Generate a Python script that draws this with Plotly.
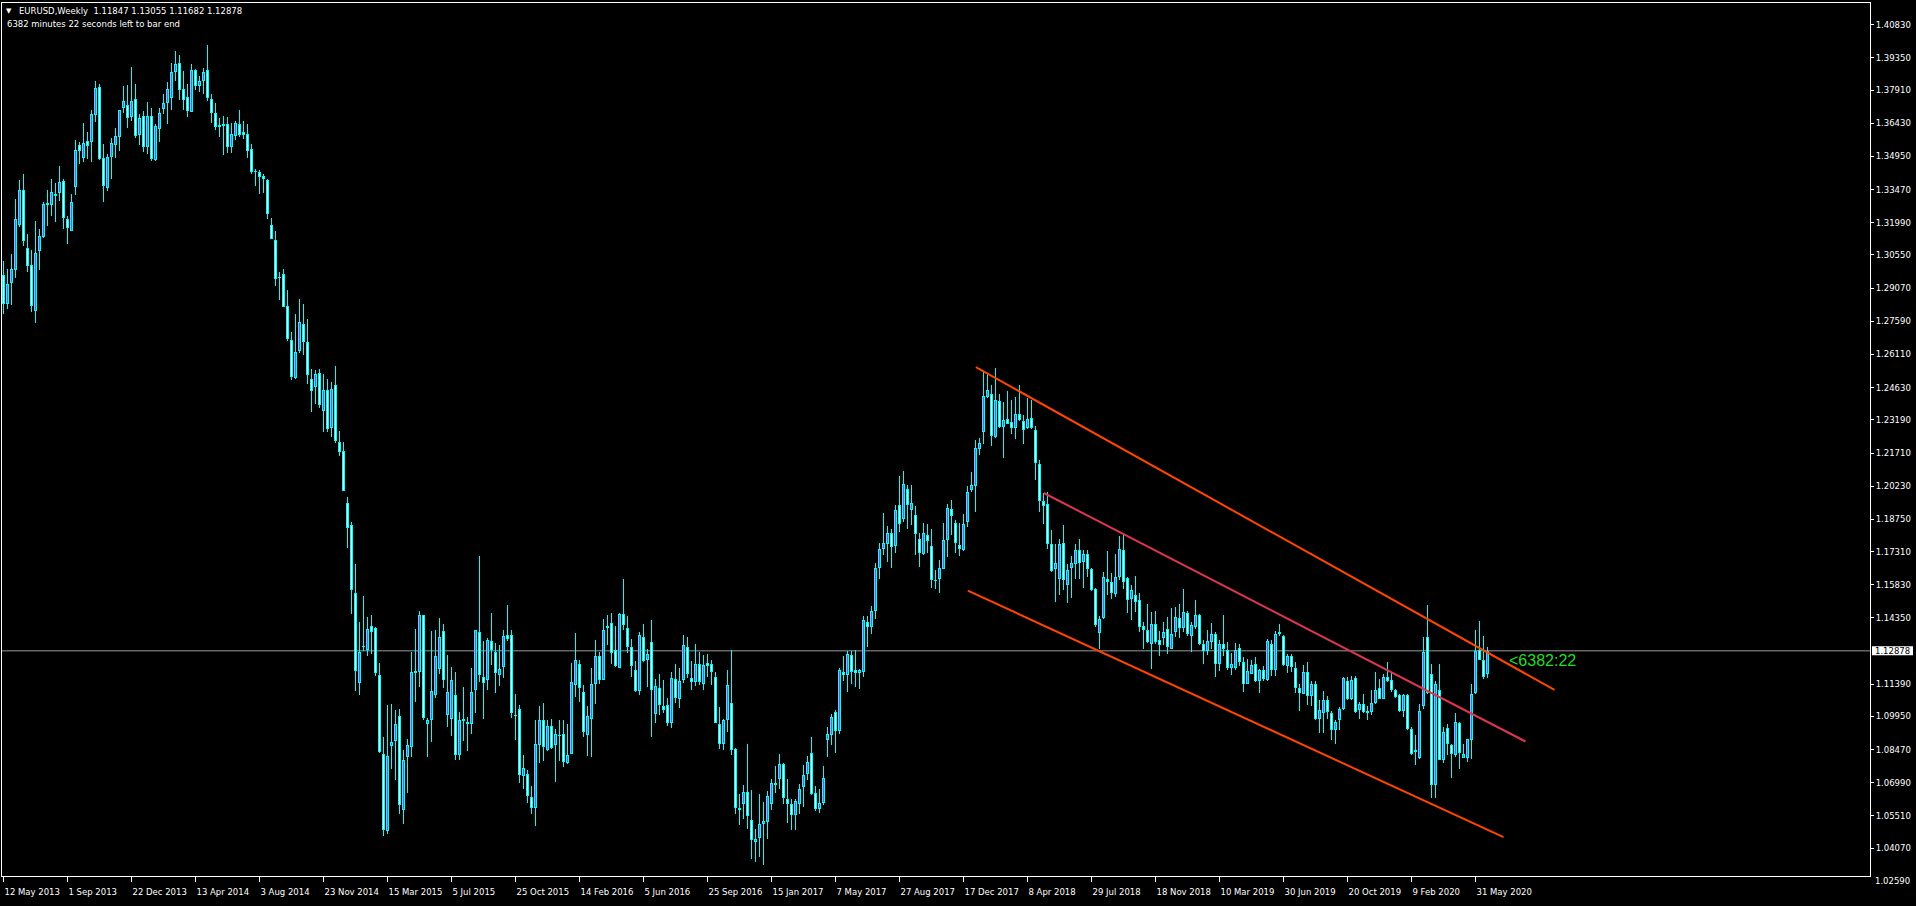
import numpy as np
import pandas as pd
import plotly.graph_objects as go

# ---------------- data (EURUSD weekly) ----------------
START = "2013-05-12"

opens = [
    1.2964, 1.2838, 1.2932, 1.2990, 1.3191, 1.3347, 1.3088, 1.3012, 1.2805, 1.3073,
    1.3135, 1.3278, 1.3278, 1.3327, 1.3333, 1.3387, 1.3217, 1.3164, 1.3360, 1.3548,
    1.3488, 1.3565, 1.3559, 1.3680, 1.3807, 1.3487, 1.3354, 1.3493, 1.3546, 1.3582,
    1.3711, 1.3726, 1.3671, 1.3753, 1.3591, 1.3677, 1.3537, 1.3677, 1.3479, 1.3618,
    1.3705, 1.3734, 1.3756, 1.3872, 1.3914, 1.3798, 1.3762, 1.3693, 1.3882, 1.3810,
    1.3832, 1.3882, 1.3753, 1.3690, 1.3634, 1.3631, 1.3641, 1.3537, 1.3586, 1.3641,
    1.3606, 1.3597, 1.3527, 1.3424, 1.3427, 1.3409, 1.3391, 1.3191, 1.3124, 1.2951,
    1.2972, 1.2829, 1.2677, 1.2506, 1.2627, 1.2748, 1.2668, 1.2503, 1.2466, 1.2528,
    1.2359, 1.2454, 1.2284, 1.2473, 1.2220, 1.2179, 1.1949, 1.1848, 1.1548, 1.1146,
    1.1305, 1.1293, 1.1397, 1.1391, 1.1179, 1.0829, 1.0484, 1.0862, 1.0884, 1.0997,
    1.0579, 1.0814, 1.0859, 1.1196, 1.1193, 1.1446, 1.0961, 1.0978, 1.1092, 1.1208,
    1.1375, 1.1003, 1.0985, 1.1089, 1.0825, 1.0975, 1.0971, 1.0960, 1.1112, 1.1372,
    1.1171, 1.1159, 1.1330, 1.1283, 1.1179, 1.1216, 1.1357, 1.1357, 1.0997, 1.1030,
    1.0728, 1.0737, 1.0635, 1.0584, 1.0866, 1.0978, 1.0844, 1.0951, 1.0866, 1.0914,
    1.0918, 1.0787, 1.0829, 1.1137, 1.1231, 1.1104, 1.0911, 1.0985, 1.1141, 1.1265,
    1.1159, 1.1390, 1.1412, 1.1290, 1.1213, 1.1454, 1.1391, 1.1305, 1.1204, 1.1109,
    1.1350, 1.1246, 1.1327, 1.1007, 1.1124, 1.1042, 1.1045, 1.0967, 1.1164, 1.1072,
    1.1156, 1.1305, 1.1168, 1.1149, 1.1231, 1.1141, 1.1235, 1.1228, 1.1171, 1.0963,
    1.0874, 1.0981, 1.1057, 1.0851, 1.0579, 1.0606, 1.0658, 1.0531, 1.0435, 1.0452,
    1.0513, 1.0524, 1.0603, 1.0698, 1.0717, 1.0784, 1.0625, 1.0603, 1.0557, 1.0606,
    1.0680, 1.0737, 1.0833, 1.0655, 1.0583, 1.0609, 1.0891, 1.0911, 1.1015, 1.0929,
    1.1193, 1.1179, 1.1268, 1.1204, 1.1190, 1.1193, 1.1417, 1.1394, 1.1466, 1.1659,
    1.1744, 1.1766, 1.1815, 1.1754, 1.1940, 1.1878, 1.2012, 1.1918, 1.1896, 1.1789,
    1.1722, 1.1806, 1.1756, 1.1600, 1.1609, 1.1655, 1.1784, 1.1923, 1.1859, 1.1759,
    1.1737, 1.1863, 1.2004, 1.2024, 1.2190, 1.2265, 1.2421, 1.2433, 1.2243, 1.2402,
    1.2287, 1.2324, 1.2310, 1.2284, 1.2347, 1.2314, 1.2284, 1.2329, 1.2272, 1.2120,
    1.1955, 1.1942, 1.1766, 1.1655, 1.1610, 1.1771, 1.1583, 1.1659, 1.1674, 1.1740,
    1.1685, 1.1722, 1.1655, 1.1566, 1.1367, 1.1436, 1.1610, 1.1595, 1.1543, 1.1617,
    1.1740, 1.1614, 1.1521, 1.1536, 1.1513, 1.1397, 1.1382, 1.1320, 1.1409, 1.1338,
    1.1346, 1.1387, 1.1298, 1.1372, 1.1436, 1.1391, 1.1457, 1.1353, 1.1394, 1.1449,
    1.1317, 1.1287, 1.1327, 1.1365, 1.1231, 1.1317, 1.1290, 1.1209, 1.1209, 1.1302,
    1.1238, 1.1141, 1.1186, 1.1231, 1.1153, 1.1201, 1.1159, 1.1320, 1.1204, 1.1372,
    1.1354, 1.1219, 1.1265, 1.1213, 1.1122, 1.1097, 1.1193, 1.1085, 1.1141, 1.0985,
    1.1010, 1.1070, 1.1010, 1.0936, 1.0978, 1.1030, 1.1153, 1.1074, 1.1168, 1.1022,
    1.1049, 1.1019, 1.1015, 1.1055, 1.1124, 1.1074, 1.1171, 1.1156, 1.1115, 1.1089,
    1.1019, 1.1089, 1.0940, 1.0836, 1.0811, 1.1042, 1.1350, 1.1186, 1.0687, 1.1115,
    1.0799, 1.0945, 1.0866, 1.0822, 1.0966, 1.0811, 1.0811, 1.0891, 1.1100, 1.1290,
    1.1245, 1.11847,
]

highs = [
    1.3027, 1.2994, 1.3058, 1.3304, 1.3388, 1.3415, 1.3147, 1.3076, 1.3205, 1.3173,
    1.3292, 1.3344, 1.3396, 1.3378, 1.3451, 1.3396, 1.3228, 1.3326, 1.3567, 1.3559,
    1.3646, 1.3606, 1.3704, 1.3830, 1.3817, 1.3549, 1.3504, 1.3576, 1.3621, 1.3704,
    1.3808, 1.3812, 1.3893, 1.3817, 1.3686, 1.3696, 1.3737, 1.3713, 1.3641, 1.3713,
    1.3772, 1.3826, 1.3914, 1.3964, 1.3946, 1.3875, 1.3820, 1.3906, 1.3884, 1.3853,
    1.3888, 1.3991, 1.3772, 1.3732, 1.3668, 1.3674, 1.3670, 1.3644, 1.3652, 1.3701,
    1.3652, 1.3638, 1.3549, 1.3440, 1.3433, 1.3415, 1.3396, 1.3219, 1.3161, 1.2978,
    1.2991, 1.2897, 1.2711, 1.2790, 1.2857, 1.2838, 1.2768, 1.2545, 1.2540, 1.2545,
    1.2525, 1.2503, 1.2488, 1.2560, 1.2268, 1.2220, 1.1975, 1.1863, 1.1674, 1.1417,
    1.1531, 1.1439, 1.1446, 1.1394, 1.1235, 1.0903, 1.1045, 1.1049, 1.1022, 1.1030,
    1.0844, 1.0896, 1.1283, 1.1387, 1.1464, 1.1450, 1.0987, 1.1375, 1.1383, 1.1435,
    1.1406, 1.1271, 1.1216, 1.1194, 1.1015, 1.1127, 1.0993, 1.1211, 1.1383, 1.1710,
    1.1330, 1.1345, 1.1457, 1.1323, 1.1313, 1.1383, 1.1491, 1.1383, 1.1094, 1.1048,
    1.0824, 1.0757, 1.0683, 1.0981, 1.1040, 1.1055, 1.0981, 1.0985, 1.0940, 1.0981,
    1.0981, 1.0963, 1.1234, 1.1369, 1.1249, 1.1134, 1.1040, 1.1211, 1.1338, 1.1283,
    1.1432, 1.1449, 1.1457, 1.1397, 1.1457, 1.1610, 1.1442, 1.1342, 1.1241, 1.1372,
    1.1409, 1.1298, 1.1424, 1.1164, 1.1183, 1.1159, 1.1079, 1.1193, 1.1228, 1.1213,
    1.1360, 1.1350, 1.1243, 1.1320, 1.1283, 1.1271, 1.1275, 1.1249, 1.1193, 1.1037,
    1.0985, 1.1201, 1.1293, 1.0855, 1.0650, 1.0688, 1.0871, 1.0665, 1.0494, 1.0650,
    1.0613, 1.0662, 1.0717, 1.0774, 1.0826, 1.0787, 1.0717, 1.0625, 1.0628, 1.0695,
    1.0777, 1.0817, 1.0903, 1.0683, 1.0673, 1.0772, 1.0948, 1.1008, 1.1022, 1.1211,
    1.1263, 1.1286, 1.1286, 1.1290, 1.1208, 1.1442, 1.1442, 1.1487, 1.1680, 1.1769,
    1.1905, 1.1844, 1.1833, 1.1938, 1.2067, 1.2091, 1.2027, 1.2027, 1.1933, 1.1814,
    1.1859, 1.1856, 1.1833, 1.1647, 1.1692, 1.1859, 1.1942, 1.1960, 1.1874, 1.1859,
    1.1897, 1.2022, 1.2086, 1.2231, 1.2240, 1.2533, 1.2522, 1.2473, 1.2552, 1.2433,
    1.2399, 1.2448, 1.2409, 1.2421, 1.2473, 1.2342, 1.2418, 1.2409, 1.2290, 1.2138,
    1.1992, 1.1997, 1.1826, 1.1766, 1.1789, 1.1848, 1.1677, 1.1710, 1.1763, 1.1789,
    1.1740, 1.1737, 1.1658, 1.1570, 1.1442, 1.1640, 1.1732, 1.1635, 1.1719, 1.1799,
    1.1811, 1.1617, 1.1580, 1.1620, 1.1546, 1.1417, 1.1496, 1.1461, 1.1466, 1.1376,
    1.1417, 1.1439, 1.1481, 1.1484, 1.1496, 1.1566, 1.1466, 1.1417, 1.1513, 1.1452,
    1.1335, 1.1380, 1.1412, 1.1372, 1.1338, 1.1446, 1.1327, 1.1278, 1.1323, 1.1320,
    1.1260, 1.1253, 1.1248, 1.1260, 1.1208, 1.1219, 1.1342, 1.1335, 1.1376, 1.1409,
    1.1357, 1.1275, 1.1275, 1.1238, 1.1138, 1.1223, 1.1238, 1.1153, 1.1153, 1.1067,
    1.1108, 1.1085, 1.1019, 1.0981, 1.1037, 1.1171, 1.1171, 1.1174, 1.1174, 1.1060,
    1.1094, 1.1040, 1.1112, 1.1193, 1.1164, 1.1186, 1.1238, 1.1193, 1.1119, 1.1097,
    1.1097, 1.1097, 1.0948, 1.0911, 1.1049, 1.1350, 1.1491, 1.1231, 1.1153, 1.1231,
    1.0948, 1.0963, 1.0874, 1.1010, 1.0970, 1.0874, 1.0896, 1.1141, 1.1379, 1.1420,
    1.1353, 1.13055,
]

lows = [
    1.2793, 1.2816, 1.2830, 1.2952, 1.3180, 1.3094, 1.2979, 1.2801, 1.2751, 1.2987,
    1.3132, 1.3183, 1.3228, 1.3201, 1.3295, 1.3170, 1.3104, 1.3161, 1.3321, 1.3460,
    1.3470, 1.3482, 1.3469, 1.3649, 1.3478, 1.3290, 1.3339, 1.3393, 1.3488, 1.3518,
    1.3687, 1.3621, 1.3653, 1.3577, 1.3545, 1.3513, 1.3504, 1.3475, 1.3475, 1.3558,
    1.3683, 1.3638, 1.3701, 1.3830, 1.3746, 1.3701, 1.3670, 1.3692, 1.3790, 1.3781,
    1.3772, 1.3741, 1.3643, 1.3612, 1.3582, 1.3500, 1.3510, 1.3509, 1.3567, 1.3582,
    1.3571, 1.3488, 1.3415, 1.3363, 1.3327, 1.3332, 1.3216, 1.3125, 1.2917, 1.2853,
    1.2823, 1.2671, 1.2496, 1.2503, 1.2618, 1.2607, 1.2478, 1.2354, 1.2391, 1.2373,
    1.2265, 1.2265, 1.2242, 1.2216, 1.2156, 1.2003, 1.1747, 1.1454, 1.1109, 1.1092,
    1.1286, 1.1265, 1.1275, 1.1174, 1.0832, 1.0460, 1.0472, 1.0762, 1.0710, 1.0561,
    1.0516, 1.0654, 1.0814, 1.1060, 1.1127, 1.0980, 1.0814, 1.0881, 1.1078, 1.1186,
    1.1124, 1.0948, 1.0908, 1.0802, 1.0802, 1.0886, 1.0841, 1.0918, 1.1010, 1.1149,
    1.0982, 1.1115, 1.1223, 1.1100, 1.1130, 1.1168, 1.1332, 1.0990, 1.0891, 1.0698,
    1.0669, 1.0609, 1.0561, 1.0505, 1.0787, 1.0795, 1.0841, 1.0851, 1.0702, 1.0796,
    1.0769, 1.0784, 1.0829, 1.1082, 1.1059, 1.0903, 1.0817, 1.0814, 1.1052, 1.1141,
    1.1156, 1.1313, 1.1231, 1.1216, 1.1210, 1.1379, 1.1278, 1.1171, 1.1105, 1.1090,
    1.1238, 1.1126, 1.0903, 1.0966, 1.1000, 1.1011, 1.0951, 1.0945, 1.1055, 1.1034,
    1.1144, 1.1168, 1.1112, 1.1130, 1.1134, 1.1112, 1.1171, 1.1134, 1.0966, 1.0851,
    1.0844, 1.0926, 1.0821, 1.0561, 1.0509, 1.0539, 1.0494, 1.0360, 1.0346, 1.0368,
    1.0330, 1.0450, 1.0576, 1.0653, 1.0673, 1.0606, 1.0517, 1.0490, 1.0490, 1.0561,
    1.0591, 1.0713, 1.0643, 1.0573, 1.0564, 1.0598, 1.0814, 1.0866, 1.0832, 1.0918,
    1.1153, 1.1104, 1.1138, 1.1127, 1.1116, 1.1171, 1.1305, 1.1364, 1.1432, 1.1610,
    1.1714, 1.1684, 1.1659, 1.1725, 1.1818, 1.1863, 1.1833, 1.1848, 1.1714, 1.1662,
    1.1714, 1.1725, 1.1570, 1.1565, 1.1546, 1.1655, 1.1707, 1.1804, 1.1725, 1.1710,
    1.1734, 1.1841, 1.1997, 1.1908, 1.2161, 1.2210, 1.2418, 1.2201, 1.2240, 1.2284,
    1.2150, 1.2299, 1.2257, 1.2235, 1.2314, 1.2210, 1.2280, 1.2280, 1.2049, 1.1908,
    1.1855, 1.1744, 1.1640, 1.1506, 1.1536, 1.1558, 1.1502, 1.1525, 1.1610, 1.1610,
    1.1570, 1.1618, 1.1555, 1.1394, 1.1298, 1.1432, 1.1536, 1.1521, 1.1528, 1.1603,
    1.1566, 1.1457, 1.1427, 1.1461, 1.1372, 1.1298, 1.1324, 1.1208, 1.1320, 1.1263,
    1.1312, 1.1272, 1.1295, 1.1350, 1.1345, 1.1372, 1.1353, 1.1283, 1.1387, 1.1314,
    1.1228, 1.1268, 1.1298, 1.1171, 1.1198, 1.1263, 1.1204, 1.1179, 1.1201, 1.1219,
    1.1104, 1.1138, 1.1183, 1.1149, 1.1100, 1.1153, 1.1153, 1.1174, 1.1174, 1.1353,
    1.1219, 1.1189, 1.1193, 1.1100, 1.1019, 1.1097, 1.1045, 1.1040, 1.0981, 1.0921,
    1.0921, 1.0985, 1.0888, 1.0874, 1.0933, 1.1022, 1.1067, 1.1067, 1.1010, 1.0985,
    1.1010, 1.0978, 1.1000, 1.1052, 1.1071, 1.1071, 1.1150, 1.1104, 1.1079, 1.1015,
    1.0993, 1.0936, 1.0822, 1.0777, 1.0807, 1.1030, 1.1097, 1.0632, 1.0632, 1.0799,
    1.0789, 1.0822, 1.0722, 1.0814, 1.0762, 1.0808, 1.0792, 1.0807, 1.1097, 1.1249,
    1.1164, 1.11682,
]

closes = [
    1.2835, 1.2927, 1.2994, 1.3217, 1.3344, 1.3118, 1.3007, 1.2828, 1.3066, 1.3140,
    1.3281, 1.3286, 1.3338, 1.3318, 1.3382, 1.3220, 1.3176, 1.3293, 1.3525, 1.3519,
    1.3557, 1.3542, 1.3686, 1.3802, 1.3482, 1.3363, 1.3494, 1.3557, 1.3588, 1.3704,
    1.3741, 1.3667, 1.3744, 1.3586, 1.3668, 1.3537, 1.3677, 1.3484, 1.3632, 1.3690,
    1.3735, 1.3798, 1.3873, 1.3909, 1.3792, 1.3747, 1.3698, 1.3882, 1.3810, 1.3833,
    1.3871, 1.3756, 1.3689, 1.3626, 1.3625, 1.3641, 1.3537, 1.3597, 1.3646, 1.3589,
    1.3591, 1.3519, 1.3424, 1.3429, 1.3403, 1.3394, 1.3238, 1.3126, 1.2948, 1.2958,
    1.2823, 1.2679, 1.2510, 1.2624, 1.2757, 1.2667, 1.2519, 1.2448, 1.2522, 1.2387,
    1.2451, 1.2280, 1.2458, 1.2226, 1.2176, 1.2003, 1.1838, 1.1561, 1.1200, 1.1283,
    1.1311, 1.1387, 1.1372, 1.1191, 1.0836, 1.0490, 1.0817, 1.0883, 1.0963, 1.0598,
    1.0802, 1.0866, 1.1193, 1.1189, 1.1447, 1.0987, 1.0980, 1.1107, 1.1264, 1.1350,
    1.1159, 1.1104, 1.1156, 1.0825, 1.0978, 1.0982, 1.0959, 1.1104, 1.1380, 1.1182,
    1.1144, 1.1335, 1.1293, 1.1189, 1.1205, 1.1353, 1.1339, 1.1010, 1.1003, 1.0735,
    1.0766, 1.0640, 1.0588, 1.0874, 1.0981, 1.0859, 1.0951, 1.0854, 1.0918, 1.0907,
    1.0792, 1.0824, 1.1149, 1.1249, 1.1124, 1.0926, 1.0997, 1.1141, 1.1265, 1.1159,
    1.1383, 1.1397, 1.1278, 1.1218, 1.1451, 1.1402, 1.1305, 1.1219, 1.1109, 1.1360,
    1.1243, 1.1275, 1.1115, 1.1131, 1.1045, 1.1025, 1.0966, 1.1168, 1.1079, 1.1153,
    1.1315, 1.1183, 1.1149, 1.1231, 1.1149, 1.1223, 1.1219, 1.1194, 1.0967, 1.0871,
    1.0981, 1.1137, 1.0847, 1.0584, 1.0588, 1.0658, 1.0551, 1.0445, 1.0450, 1.0513,
    1.0527, 1.0638, 1.0699, 1.0687, 1.0781, 1.0633, 1.0606, 1.0557, 1.0616, 1.0670,
    1.0732, 1.0792, 1.0647, 1.0580, 1.0609, 1.0722, 1.0915, 1.0993, 1.0930, 1.1201,
    1.1179, 1.1275, 1.1193, 1.1190, 1.1204, 1.1424, 1.1394, 1.1466, 1.1659, 1.1744,
    1.1769, 1.1815, 1.1751, 1.1918, 1.1855, 1.2031, 1.1937, 1.1949, 1.1811, 1.1725,
    1.1815, 1.1777, 1.1603, 1.1606, 1.1659, 1.1784, 1.1927, 1.1890, 1.1769, 1.1741,
    1.1856, 1.1999, 1.2027, 1.2195, 1.2217, 1.2424, 1.2451, 1.2245, 1.2406, 1.2287,
    1.2317, 1.2302, 1.2284, 1.2347, 1.2317, 1.2275, 1.2324, 1.2284, 1.2126, 1.1957,
    1.1934, 1.1766, 1.1644, 1.1682, 1.1766, 1.1606, 1.1650, 1.1682, 1.1740, 1.1682,
    1.1719, 1.1655, 1.1558, 1.1402, 1.1432, 1.1617, 1.1595, 1.1546, 1.1617, 1.1744,
    1.1595, 1.1516, 1.1558, 1.1506, 1.1394, 1.1382, 1.1327, 1.1409, 1.1327, 1.1312,
    1.1372, 1.1305, 1.1365, 1.1439, 1.1391, 1.1461, 1.1361, 1.1402, 1.1449, 1.1317,
    1.1287, 1.1332, 1.1362, 1.1231, 1.1320, 1.1298, 1.1213, 1.1231, 1.1290, 1.1238,
    1.1141, 1.1196, 1.1226, 1.1153, 1.1201, 1.1164, 1.1330, 1.1201, 1.1365, 1.1365,
    1.1223, 1.1265, 1.1216, 1.1124, 1.1101, 1.1193, 1.1085, 1.1138, 1.0985, 1.1025,
    1.1070, 1.1015, 1.0933, 1.0970, 1.1030, 1.1168, 1.1074, 1.1159, 1.1015, 1.1049,
    1.1015, 1.1010, 1.1055, 1.1112, 1.1074, 1.1171, 1.1153, 1.1115, 1.1082, 1.1019,
    1.1089, 1.0940, 1.0826, 1.0847, 1.1019, 1.1283, 1.1100, 1.0687, 1.1138, 1.0799,
    1.0926, 1.0871, 1.0829, 1.0970, 1.0832, 1.0829, 1.0896, 1.1094, 1.1287, 1.1249,
    1.1171, 1.12878,
]

price_tick_labels = [
    "1.40830", "1.39350", "1.37910", "1.36430", "1.34950", "1.33470", "1.31990",
    "1.30550", "1.29070", "1.27590", "1.26110", "1.24630", "1.23190", "1.21710",
    "1.20230", "1.18750", "1.17310", "1.15830", "1.14350", "1.11390", "1.09950",
    "1.08470", "1.06990", "1.05510", "1.04070",
]
price_label_below_frame = "1.02590"

date_tick_labels = [
    "12 May 2013", "1 Sep 2013", "22 Dec 2013", "13 Apr 2014", "3 Aug 2014",
    "23 Nov 2014", "15 Mar 2015", "5 Jul 2015", "25 Oct 2015", "14 Feb 2016",
    "5 Jun 2016", "25 Sep 2016", "15 Jan 2017", "7 May 2017", "27 Aug 2017",
    "17 Dec 2017", "8 Apr 2018", "29 Jul 2018", "18 Nov 2018", "10 Mar 2019",
    "30 Jun 2019", "20 Oct 2019", "9 Feb 2020", "31 May 2020",
]

current_price = 1.12878
header_text = "EURUSD,Weekly  1.11847 1.13055 1.11682 1.12878"
timer_text = "6382 minutes 22 seconds left to bar end"
countdown_text = "<6382:22"

# channel trend lines (time, price) anchors
upper_line_time = ["2018-01-07 17:00", "2020-10-16 06:00"]
upper_line_price = [1.25544, 1.11134]
middle_line_time = ["2018-05-06 12:00", "2020-08-26 12:00"]
middle_line_price = [1.19924, 1.08830]
lower_line_time = ["2017-12-24 13:00", "2020-07-19 00:00"]
lower_line_price = [1.15567, 1.04562]

# ---------------- styling / geometry ----------------
W, H = 1916, 906
ML, MR, MT, MB = 2, 46, 3, 30
PLOT_W = W - ML - MR
PLOT_H = H - MT - MB

AQUA = "#00FFFF"
BULL_FILL = "#B040D0"
BEAR_FILL = "#FFFFFF"
ORANGE = "#FF4500"
CRIMSON = "#DC3550"
FONT = "DejaVu Sans"

o = np.array(opens)
h = np.array(highs)
l = np.array(lows)
c = np.array(closes)
n = len(o)
assert len(h) == n and len(l) == n and len(c) == n
dates = pd.date_range(START, periods=n, freq="7D")
tick_dates = pd.date_range(START, periods=len(date_tick_labels), freq="112D")

WEEK_MS = 7 * 24 * 3600 * 1000
PX_MS = WEEK_MS / 4.0  # 4 pixels per weekly bar
x_start = pd.Timestamp(START) - pd.Timedelta(milliseconds=1.5 * PX_MS)
x_end = x_start + pd.Timedelta(milliseconds=PLOT_W * PX_MS)

Y_MIN, Y_MAX = 1.02826, 1.41799
PX_P = (Y_MAX - Y_MIN) / PLOT_H

body_lo = np.minimum(o, c)
body_hi = np.maximum(o, c)
body_len = np.maximum(body_hi - body_lo, PX_P)
inner_len = body_hi - body_lo - 2 * PX_P

fig = go.Figure()

# wicks
fig.add_trace(go.Bar(x=dates, y=h - l, base=l, width=PX_MS,
                     marker=dict(color=AQUA, line=dict(width=0)),
                     hoverinfo="skip", showlegend=False))
# body outlines
fig.add_trace(go.Bar(x=dates, y=body_len, base=body_lo, width=3 * PX_MS,
                     marker=dict(color=AQUA, line=dict(width=0)),
                     hoverinfo="skip", showlegend=False))
# body interiors
bull = (c > o) & (inner_len > 0.5 * PX_P)
bear = (c < o) & (inner_len > 0.5 * PX_P)
fig.add_trace(go.Bar(x=dates[bull], y=inner_len[bull], base=body_lo[bull] + PX_P,
                     width=PX_MS, marker=dict(color=BULL_FILL, line=dict(width=0)),
                     hoverinfo="skip", showlegend=False))
fig.add_trace(go.Bar(x=dates[bear], y=inner_len[bear], base=body_lo[bear] + PX_P,
                     width=PX_MS, marker=dict(color=BEAR_FILL, line=dict(width=0)),
                     hoverinfo="skip", showlegend=False))

# channel lines
for t, p, col in [(upper_line_time, upper_line_price, ORANGE),
                  (middle_line_time, middle_line_price, CRIMSON),
                  (lower_line_time, lower_line_price, ORANGE)]:
    fig.add_trace(go.Scatter(x=pd.to_datetime(t), y=p, mode="lines",
                             line=dict(color=col, width=2),
                             hoverinfo="skip", showlegend=False))

def px_x(px):
    return (px - ML) / PLOT_W

def px_y(py):
    return (H - MB - py) / PLOT_H

shapes = [
    dict(type="line", xref="paper", x0=0, x1=1, yref="y", y0=current_price, y1=current_price,
         line=dict(color="#9A9A9A", width=1), layer="below"),
    dict(type="rect", xref="paper", x0=px_x(1872), x1=px_x(1913), yref="y",
         y0=current_price - 4.5 * PX_P, y1=current_price + 4.5 * PX_P,
         fillcolor="#FFFFFF", line=dict(width=0)),
]

annotations = [
    dict(text="\u25BC", xref="paper", yref="paper", x=px_x(9), y=px_y(11),
         xanchor="center", yanchor="middle", showarrow=False,
         font=dict(family=FONT, size=7, color="#FFFFFF")),
    dict(text=header_text, xref="paper", yref="paper", x=px_x(17), y=px_y(11),
         xanchor="left", yanchor="middle", showarrow=False,
         font=dict(family=FONT, size=8.5, color="#FFFFFF")),
    dict(text=timer_text, xref="paper", yref="paper", x=px_x(5), y=px_y(24),
         xanchor="left", yanchor="middle", showarrow=False,
         font=dict(family=FONT, size=8.5, color="#FFFFFF")),
    dict(text=countdown_text, xref="paper", yref="paper", x=px_x(1507), y=px_y(660),
         xanchor="left", yanchor="middle", showarrow=False,
         font=dict(family="Liberation Sans", size=16, color="#22DD22")),
    dict(text=f"{current_price:.5f}", xref="paper", yref="y", x=px_x(1873), y=current_price,
         xanchor="left", yanchor="middle", showarrow=False,
         font=dict(family=FONT, size=8.5, color="#000000")),
    dict(text=price_label_below_frame, xref="paper", yref="paper", x=px_x(1873), y=px_y(881),
         xanchor="left", yanchor="middle", showarrow=False,
         font=dict(family=FONT, size=8.5, color="#FFFFFF")),
]

fig.update_layout(
    width=W, height=H,
    margin=dict(l=ML, r=MR, t=MT, b=MB, pad=0),
    paper_bgcolor="#000000", plot_bgcolor="#000000",
    barmode="overlay", bargap=0,
    showlegend=False,
    shapes=shapes, annotations=annotations,
    hovermode=False,
)

fig.update_xaxes(
    type="date", range=[x_start, x_end],
    tickvals=tick_dates, ticktext=date_tick_labels,
    ticks="outside", ticklen=5, tickcolor="#FFFFFF", tickwidth=1,
    ticklabelposition="outside right", ticklabelstandoff=8,
    tickfont=dict(family=FONT, size=8.5, color="#FFFFFF"),
    showgrid=False, zeroline=False,
    showline=True, linecolor="#FFFFFF", linewidth=1, mirror=True,
)
fig.update_yaxes(
    range=[Y_MIN, Y_MAX], side="right",
    tickvals=[float(s) for s in price_tick_labels], ticktext=price_tick_labels,
    ticks="outside", ticklen=3, tickcolor="#FFFFFF", tickwidth=1,
    tickfont=dict(family=FONT, size=8.5, color="#FFFFFF"),
    showgrid=False, zeroline=False,
    showline=True, linecolor="#FFFFFF", linewidth=1, mirror=True,
)

fig.write_html(
    "out.html",
    config={"displayModeBar": False, "staticPlot": True},
    post_script="document.body.style.margin='0px';document.body.style.overflow='hidden';",
)
